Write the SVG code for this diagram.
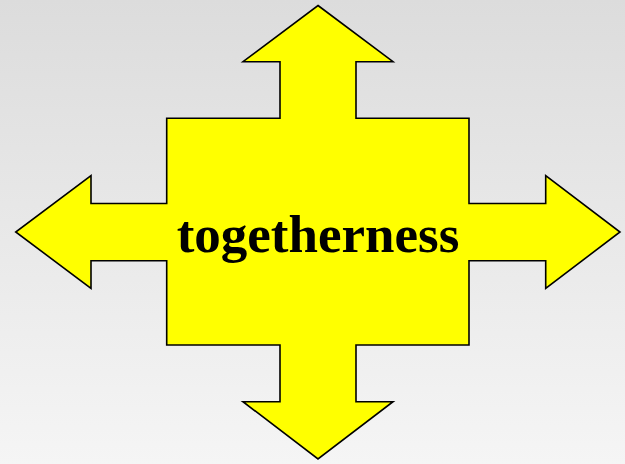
<svg xmlns="http://www.w3.org/2000/svg" width="625" height="464" viewBox="0 0 625 464">
<defs>
<linearGradient id="bg" x1="0" y1="0" x2="0" y2="1">
<stop offset="0" stop-color="#dcdcdc"/>
<stop offset="1" stop-color="#f5f5f5"/>
</linearGradient>
<style>
.shape{fill:#ffff00;stroke:#000;stroke-width:1.6;stroke-linejoin:miter}
.label{font-family:"Liberation Serif","Times New Roman",serif;font-weight:bold;font-size:53px;fill:#000}
</style>
</defs>
<rect width="625" height="464" fill="url(#bg)"/>
<g id="arrow">
<polygon class="shape" points="318,5.5 393,61.7 356,61.7 356,118.3 469,118.3 469,203.5 545.7,203.5 545.7,175.7 620,232 545.7,288.3 545.7,260.7 469,260.7 469,345 356,345 356,401.7 393,401.7 318,459 243,401.7 280,401.7 280,345 166.7,345 166.7,260.7 91,260.7 91,288.3 15.7,232 91,175.7 91,203.5 166.7,203.5 166.7,118.3 280,118.3 280,61.7 243,61.7"/>
<text class="label" x="318" y="251.5" text-anchor="middle">togetherness</text>
</g>
</svg>
